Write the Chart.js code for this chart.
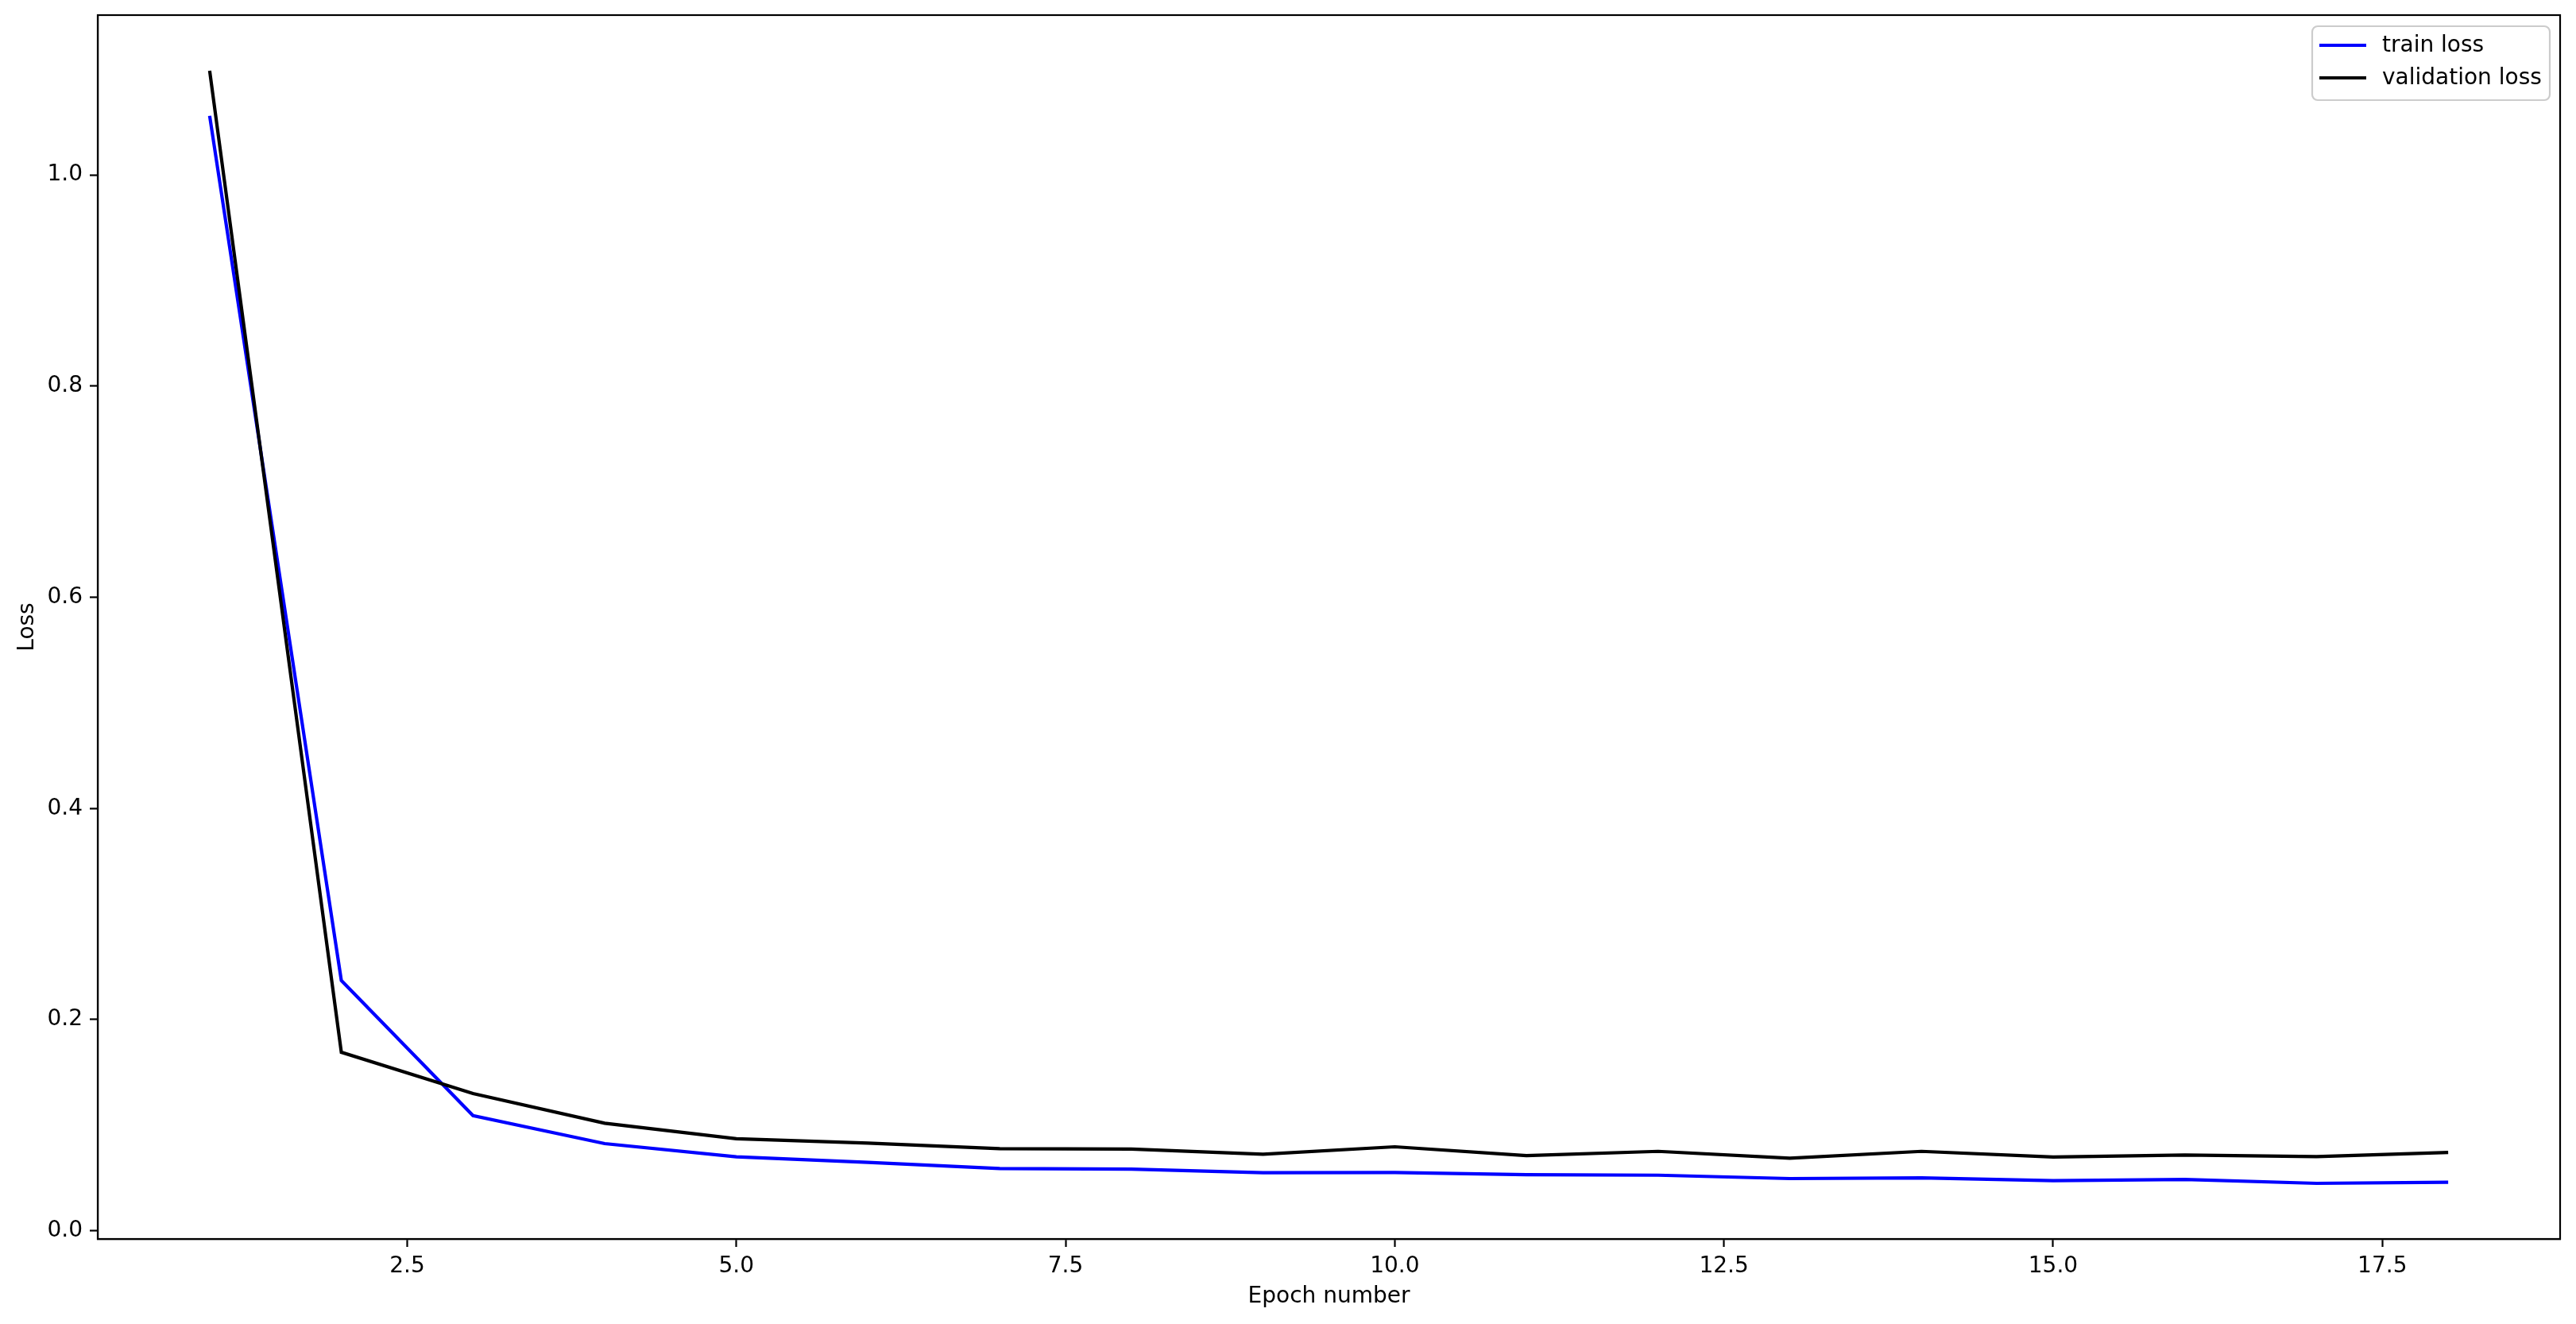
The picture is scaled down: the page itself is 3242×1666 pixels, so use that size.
<!DOCTYPE html>
<html>
<head>
<meta charset="utf-8">
<script src="https://cdn.jsdelivr.net/npm/chart.js@4/dist/chart.umd.min.js"></script>
<style>
    body { margin: 0; background: #fff; }
    #wrap { width: 3242px; height: 1666px; }
</style>
</head>
<body>
<div id="wrap"><canvas id="loss-chart" width="3242" height="1666"></canvas></div>
<script>
const epochs = [1, 2, 3, 4, 5, 6, 7, 8, 9, 10, 11, 12, 13, 14, 15, 16, 17, 18];
const trainLoss = [1.056, 0.237, 0.109, 0.0825, 0.070, 0.0647, 0.0589, 0.0584, 0.0549, 0.0551,
    0.0531, 0.0526, 0.0494, 0.0501, 0.0474, 0.0486, 0.0449, 0.0459];
const valLoss = [1.0987, 0.169, 0.130, 0.1018, 0.0872, 0.083, 0.0777, 0.0774, 0.0724, 0.0795,
    0.0712, 0.0752, 0.0687, 0.0752, 0.0699, 0.0717, 0.0702, 0.0742];
const xTicks = [2.5, 5.0, 7.5, 10.0, 12.5, 15.0, 17.5];
const yTicks = [0.0, 0.2, 0.4, 0.6, 0.8, 1.0];

const FONT = 'DejaVu Sans';
const FS = 28;

const toPoints = (vals) => epochs.map((e, i) => ({x: e, y: vals[i]}));

// box around the axes + legend in the upper right corner
const framePlugin = {
    id: 'frame',
    afterDraw(chart) {
        const ctx = chart.ctx;
        const a = chart.chartArea;
        ctx.save();
        ctx.strokeStyle = '#000';
        ctx.lineWidth = 2.2;
        ctx.strokeRect(a.left, a.top, a.right - a.left, a.bottom - a.top);

        // legend
        const w = 299, h = 93;
        const bx = a.right - 13 - w, by = a.top + 14;
        ctx.beginPath();
        ctx.roundRect(bx, by, w, h, 7);
        ctx.fillStyle = 'rgba(255,255,255,0.8)';
        ctx.fill();
        ctx.strokeStyle = '#cccccc';
        ctx.lineWidth = 2.2;
        ctx.stroke();

        ctx.font = FS + 'px "' + FONT + '"';
        ctx.textBaseline = 'middle';
        chart.data.datasets.forEach((ds, i) => {
            const y = by + 24 + i * 41;
            ctx.beginPath();
            ctx.moveTo(bx + 9, y);
            ctx.lineTo(bx + 68, y);
            ctx.strokeStyle = ds.borderColor;
            ctx.lineWidth = 4.2;
            ctx.stroke();
            ctx.fillStyle = '#000';
            ctx.fillText(ds.label, bx + 88, y + 1);
        });
        ctx.restore();
    }
};

const ctx = document.getElementById('loss-chart').getContext('2d');
new Chart(ctx, {
    type: 'line',
    data: {
        datasets: [{
            label: 'train loss',
            data: toPoints(trainLoss),
            borderColor: '#0000ff',
            borderWidth: 4.2,
            pointRadius: 0,
            tension: 0,
            fill: false,
            order: 1
        }, {
            label: 'validation loss',
            data: toPoints(valLoss),
            borderColor: '#000000',
            borderWidth: 4.2,
            pointRadius: 0,
            tension: 0,
            fill: false,
            order: 0
        }]
    },
    options: {
        responsive: false,
        animation: false,
        events: [],
        layout: {
            padding: {top: 19, right: 20, left: 0, bottom: 0}
        },
        plugins: {
            legend: {display: false},
            tooltip: {enabled: false}
        },
        scales: {
            x: {
                type: 'linear',
                min: 0.15,
                max: 18.85,
                afterBuildTicks: (scale) => { scale.ticks = xTicks.map(v => ({value: v})); },
                afterFit: (scale) => {
                    scale.height = 107;
                    scale.paddingLeft = 0;
                    scale.paddingRight = 0;
                },
                grid: {
                    drawOnChartArea: false,
                    drawTicks: true,
                    tickLength: 10,
                    tickWidth: 2.2,
                    tickColor: '#000'
                },
                border: {display: true, color: '#000', width: 2.2},
                ticks: {
                    color: '#000',
                    padding: 8,
                    maxRotation: 0,
                    autoSkip: false,
                    font: {family: FONT, size: FS},
                    callback: (v) => v.toFixed(1)
                },
                title: {
                    display: true,
                    text: 'Epoch number',
                    color: '#000',
                    font: {family: FONT, size: FS},
                    padding: {top: 0, bottom: 17}
                }
            },
            y: {
                type: 'linear',
                min: -0.0078,
                max: 1.1514,
                afterBuildTicks: (scale) => { scale.ticks = yTicks.map(v => ({value: v})); },
                afterFit: (scale) => {
                    scale.width = 123;
                    scale.paddingTop = 0;
                    scale.paddingBottom = 0;
                },
                grid: {
                    drawOnChartArea: false,
                    drawTicks: true,
                    tickLength: 10,
                    tickWidth: 2.2,
                    tickColor: '#000'
                },
                border: {display: true, color: '#000', width: 2.2},
                ticks: {
                    color: '#000',
                    padding: 9,
                    autoSkip: false,
                    font: {family: FONT, size: FS},
                    callback: (v) => v.toFixed(1)
                },
                title: {
                    display: true,
                    text: 'Loss',
                    color: '#000',
                    font: {family: FONT, size: FS},
                    padding: {top: 18, bottom: 0}
                }
            }
        }
    },
    plugins: [framePlugin]
});
</script>
</body>
</html>
